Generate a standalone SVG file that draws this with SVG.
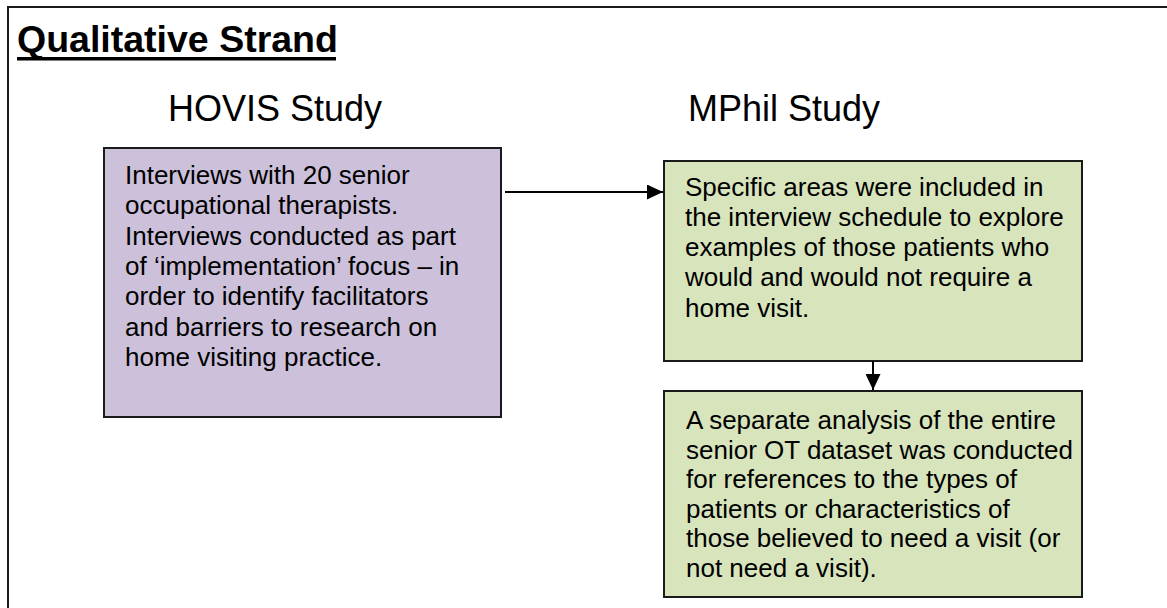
<svg xmlns="http://www.w3.org/2000/svg" width="1167" height="608" viewBox="0 0 1167 608">
<style>
.box{stroke:#1a1a1a;stroke-width:2}
.purple{fill:#CCC0DA}
.green{fill:#D7E4BC}
.t{font-family:"Liberation Sans",Arial,sans-serif;font-size:26px;fill:#000}
.h{font-family:"Liberation Sans",Arial,sans-serif;font-size:36px;fill:#000}
.title{font-family:"Liberation Sans",Arial,sans-serif;font-size:37.5px;font-weight:bold;fill:#000}
.conn{stroke:#000;stroke-width:2;fill:none}
</style>
<defs>
<marker id="arr" viewBox="0 0 16 15" refX="16" refY="7.5" markerWidth="16" markerHeight="15" markerUnits="userSpaceOnUse" orient="auto">
<path d="M0,0 L16,7.5 L0,15 Z" fill="#000"/>
</marker>
</defs>
<rect width="1167" height="608" fill="#fff"/>
<g id="frame">
<path d="M8,608 L8,7 L1167,7" stroke="#1a1a1a" stroke-width="2" fill="none"/>
</g>
<g id="title">
<text class="title" x="17" y="52">Qualitative Strand</text>
<rect x="17" y="57" width="319" height="3.5" fill="#000"/>
</g>
<g id="heading-hovis"><text class="h" x="168" y="121">HOVIS Study</text></g>
<g id="heading-mphil"><text class="h" x="688" y="121">MPhil Study</text></g>
<g id="node-hovis">
<rect class="box purple" x="104" y="148" width="397" height="269"/>
<text class="t">
<tspan x="125" y="184">Interviews with 20 senior</tspan>
<tspan x="125" y="214">occupational therapists.</tspan>
<tspan x="125" y="245">Interviews conducted as part</tspan>
<tspan x="125" y="275">of ‘implementation’ focus – in</tspan>
<tspan x="125" y="305">order to identify facilitators</tspan>
<tspan x="125" y="336">and barriers to research on</tspan>
<tspan x="125" y="366">home visiting practice.</tspan>
</text>
</g>
<g id="node-specific">
<rect class="box green" x="664" y="161" width="418" height="200"/>
<text class="t">
<tspan x="685" y="196">Specific areas were included in</tspan>
<tspan x="685" y="226">the interview schedule to explore</tspan>
<tspan x="685" y="256">examples of those patients who</tspan>
<tspan x="685" y="286">would and would not require a</tspan>
<tspan x="685" y="317">home visit.</tspan>
</text>
</g>
<g id="node-analysis">
<rect class="box green" x="664" y="391" width="418" height="206"/>
<text class="t">
<tspan x="686" y="429">A separate analysis of the entire</tspan>
<tspan x="686" y="459">senior OT dataset was conducted</tspan>
<tspan x="686" y="488">for references to the types of</tspan>
<tspan x="686" y="518">patients or characteristics of</tspan>
<tspan x="686" y="547">those believed to need a visit (or</tspan>
<tspan x="686" y="577">not need a visit).</tspan>
</text>
</g>
<g id="connectors">
<line class="conn" x1="505" y1="192" x2="663" y2="192" marker-end="url(#arr)"/>
<line class="conn" x1="873" y1="361" x2="873" y2="390" marker-end="url(#arr)"/>
</g>
</svg>
